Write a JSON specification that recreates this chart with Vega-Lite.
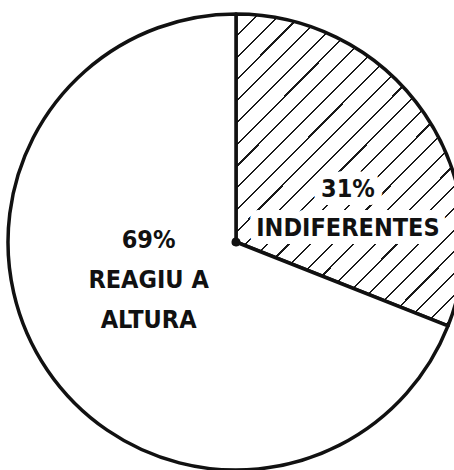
{
  "$schema": "https://vega.github.io/schema/vega-lite/v6.json",
  "width": 436,
  "height": 456,
  "padding": {"left": 18, "top": 14, "right": 0, "bottom": 0},
  "autosize": {"type": "none"},
  "background": "white",
  "config": {"view": {"stroke": null}},
  "data": {
    "values": [
      {"label": "INDIFERENTES", "pct": 31, "txt": "31%\nINDIFERENTES"},
      {"label": "REAGIU A ALTURA", "pct": 69, "txt": "69%\nREAGIU A\nALTURA"}
    ]
  },
  "encoding": {
    "theta": {"field": "pct", "type": "quantitative", "stack": true},
    "order": {"field": "pct", "sort": "ascending"}
  },
  "layer": [
    {
      "mark": {"type": "arc", "outerRadius": 228, "stroke": "#111111", "strokeWidth": 3.5, "strokeJoin": "round"},
      "encoding": {
        "fill": {
          "condition": {
            "test": "datum.label === 'INDIFERENTES'",
            "value": {
              "gradient": "linear", "x1": 0, "y1": 0, "x2": 0.83, "y2": 1.13,
              "stops": [
                {"offset": 0.0, "color": "#1a1a1a"}, {"offset": 0.004, "color": "#1a1a1a"}, {"offset": 0.004, "color": "#ffffff"}, {"offset": 0.04, "color": "#ffffff"},
                {"offset": 0.04, "color": "#1a1a1a"}, {"offset": 0.044, "color": "#1a1a1a"}, {"offset": 0.044, "color": "#ffffff"}, {"offset": 0.08, "color": "#ffffff"},
                {"offset": 0.08, "color": "#1a1a1a"}, {"offset": 0.084, "color": "#1a1a1a"}, {"offset": 0.084, "color": "#ffffff"}, {"offset": 0.12, "color": "#ffffff"},
                {"offset": 0.12, "color": "#1a1a1a"}, {"offset": 0.124, "color": "#1a1a1a"}, {"offset": 0.124, "color": "#ffffff"}, {"offset": 0.16, "color": "#ffffff"},
                {"offset": 0.16, "color": "#1a1a1a"}, {"offset": 0.164, "color": "#1a1a1a"}, {"offset": 0.164, "color": "#ffffff"}, {"offset": 0.2, "color": "#ffffff"},
                {"offset": 0.2, "color": "#1a1a1a"}, {"offset": 0.204, "color": "#1a1a1a"}, {"offset": 0.204, "color": "#ffffff"}, {"offset": 0.24, "color": "#ffffff"},
                {"offset": 0.24, "color": "#1a1a1a"}, {"offset": 0.244, "color": "#1a1a1a"}, {"offset": 0.244, "color": "#ffffff"}, {"offset": 0.28, "color": "#ffffff"},
                {"offset": 0.28, "color": "#1a1a1a"}, {"offset": 0.284, "color": "#1a1a1a"}, {"offset": 0.284, "color": "#ffffff"}, {"offset": 0.32, "color": "#ffffff"},
                {"offset": 0.32, "color": "#1a1a1a"}, {"offset": 0.324, "color": "#1a1a1a"}, {"offset": 0.324, "color": "#ffffff"}, {"offset": 0.36, "color": "#ffffff"},
                {"offset": 0.36, "color": "#1a1a1a"}, {"offset": 0.364, "color": "#1a1a1a"}, {"offset": 0.364, "color": "#ffffff"}, {"offset": 0.4, "color": "#ffffff"},
                {"offset": 0.4, "color": "#1a1a1a"}, {"offset": 0.404, "color": "#1a1a1a"}, {"offset": 0.404, "color": "#ffffff"}, {"offset": 0.44, "color": "#ffffff"},
                {"offset": 0.44, "color": "#1a1a1a"}, {"offset": 0.444, "color": "#1a1a1a"}, {"offset": 0.444, "color": "#ffffff"}, {"offset": 0.48, "color": "#ffffff"},
                {"offset": 0.48, "color": "#1a1a1a"}, {"offset": 0.484, "color": "#1a1a1a"}, {"offset": 0.484, "color": "#ffffff"}, {"offset": 0.52, "color": "#ffffff"},
                {"offset": 0.52, "color": "#1a1a1a"}, {"offset": 0.524, "color": "#1a1a1a"}, {"offset": 0.524, "color": "#ffffff"}, {"offset": 0.56, "color": "#ffffff"},
                {"offset": 0.56, "color": "#1a1a1a"}, {"offset": 0.564, "color": "#1a1a1a"}, {"offset": 0.564, "color": "#ffffff"}, {"offset": 0.6, "color": "#ffffff"},
                {"offset": 0.6, "color": "#1a1a1a"}, {"offset": 0.604, "color": "#1a1a1a"}, {"offset": 0.604, "color": "#ffffff"}, {"offset": 0.64, "color": "#ffffff"},
                {"offset": 0.64, "color": "#1a1a1a"}, {"offset": 0.644, "color": "#1a1a1a"}, {"offset": 0.644, "color": "#ffffff"}, {"offset": 0.68, "color": "#ffffff"},
                {"offset": 0.68, "color": "#1a1a1a"}, {"offset": 0.684, "color": "#1a1a1a"}, {"offset": 0.684, "color": "#ffffff"}, {"offset": 0.72, "color": "#ffffff"},
                {"offset": 0.72, "color": "#1a1a1a"}, {"offset": 0.724, "color": "#1a1a1a"}, {"offset": 0.724, "color": "#ffffff"}, {"offset": 0.76, "color": "#ffffff"},
                {"offset": 0.76, "color": "#1a1a1a"}, {"offset": 0.764, "color": "#1a1a1a"}, {"offset": 0.764, "color": "#ffffff"}, {"offset": 0.8, "color": "#ffffff"},
                {"offset": 0.8, "color": "#1a1a1a"}, {"offset": 0.804, "color": "#1a1a1a"}, {"offset": 0.804, "color": "#ffffff"}, {"offset": 0.84, "color": "#ffffff"},
                {"offset": 0.84, "color": "#1a1a1a"}, {"offset": 0.844, "color": "#1a1a1a"}, {"offset": 0.844, "color": "#ffffff"}, {"offset": 0.88, "color": "#ffffff"},
                {"offset": 0.88, "color": "#1a1a1a"}, {"offset": 0.884, "color": "#1a1a1a"}, {"offset": 0.884, "color": "#ffffff"}, {"offset": 0.92, "color": "#ffffff"},
                {"offset": 0.92, "color": "#1a1a1a"}, {"offset": 0.924, "color": "#1a1a1a"}, {"offset": 0.924, "color": "#ffffff"}, {"offset": 0.96, "color": "#ffffff"},
                {"offset": 0.96, "color": "#1a1a1a"}, {"offset": 0.964, "color": "#1a1a1a"}, {"offset": 0.964, "color": "#ffffff"}, {"offset": 1.0, "color": "#ffffff"}
              ]
            }
          },
          "value": "white"
        }
      }
    },
    {
      "mark": {"type": "arc", "outerRadius": 4.5, "fill": "#111111"},
      "encoding": {}
    },
    {
      "mark": {"type": "text", "radius": 116, "dx": 16, "dy": 12, "fontSize": 25, "font": "DejaVu Sans Condensed", "fontWeight": "bold", "lineHeight": 39, "lineBreak": "\n", "align": "center", "baseline": "middle", "color": "white", "stroke": "white", "strokeWidth": 16, "strokeJoin": "round"},
      "encoding": {
        "text": {"condition": {"test": "datum.label === 'INDIFERENTES'", "field": "txt"}, "value": ""}
      }
    },
    {
      "mark": {"type": "text", "radius": 116, "dx": 16, "dy": 12, "fontSize": 25, "font": "DejaVu Sans Condensed", "fontWeight": "bold", "lineHeight": 39, "lineBreak": "\n", "align": "center", "baseline": "middle", "color": "#111111"},
      "encoding": {
        "text": {"condition": {"test": "datum.label === 'INDIFERENTES'", "field": "txt"}, "value": ""}
      }
    },
    {
      "mark": {"type": "text", "radius": 96, "dx": -8, "dy": -56, "fontSize": 25, "font": "DejaVu Sans Condensed", "fontWeight": "bold", "lineHeight": 40, "lineBreak": "\n", "align": "center", "baseline": "middle", "color": "#111111"},
      "encoding": {
        "text": {"condition": {"test": "datum.label !== 'INDIFERENTES'", "field": "txt"}, "value": ""}
      }
    }
  ]
}
